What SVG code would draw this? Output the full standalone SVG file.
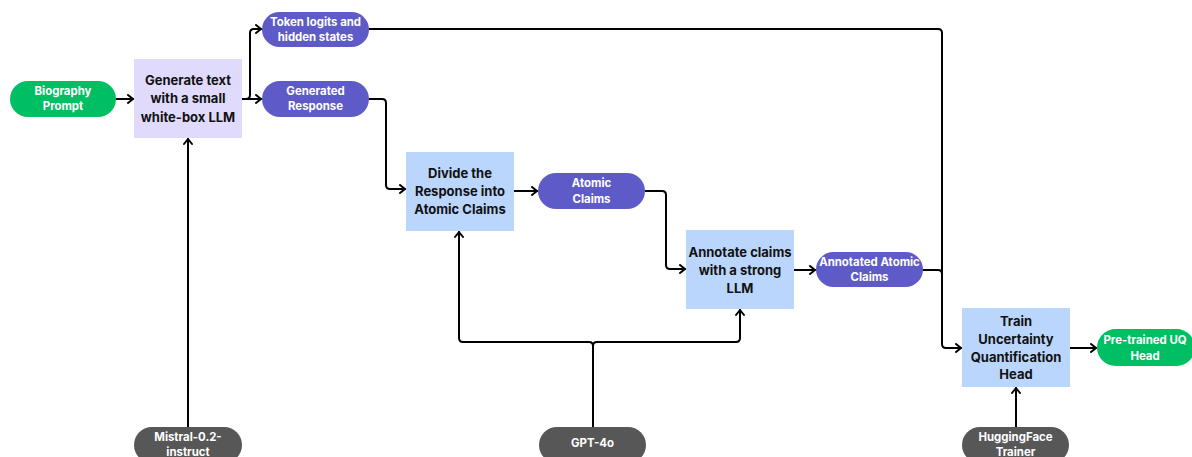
<svg xmlns="http://www.w3.org/2000/svg" width="1192" height="457" viewBox="0 0 1192 457">
<style>
.box{stroke:none}
.task{fill:#BBD6FD}
.gen{fill:#E0DBFC}
.pill-g{fill:#00BF63}
.pill-p{fill:#5E5BC8}
.pill-d{fill:#575757}
.bt{font-family:Inter,"Liberation Sans",sans-serif;font-weight:700;font-size:13px;fill:#111;text-anchor:middle}
.pt{font-family:Inter,"Liberation Sans",sans-serif;font-weight:700;font-size:11.4px;fill:#fff;text-anchor:middle}
.c{fill:none;stroke:#000;stroke-width:2;stroke-linejoin:round;stroke-linecap:round}
</style>
<defs>
<marker id="ah" viewBox="0 0 10 10" markerWidth="10" markerHeight="10" refX="8" refY="5" orient="auto" markerUnits="userSpaceOnUse">
<path d="M3,1 L8,5 L3,9" fill="none" stroke="#000" stroke-width="2" stroke-linejoin="round" stroke-linecap="round"/>
</marker>
</defs>
<rect width="1192" height="457" fill="#fff"/>

<g id="connectors">
<path class="c" d="M116,99 H133" marker-end="url(#ah)"/>
<path class="c" d="M242,99 H261" marker-end="url(#ah)"/>
<path class="c" d="M242,99 H246 Q250,99 250,95 V33 Q250,29 254,29 H261" marker-end="url(#ah)"/>
<path class="c" d="M369,99 H382 Q386,99 386,103 V185 Q386,189 390,189 H405" marker-end="url(#ah)"/>
<path class="c" d="M514,191 H537" marker-end="url(#ah)"/>
<path class="c" d="M645,191 H662 Q666,191 666,195 V265 Q666,269 670,269 H685" marker-end="url(#ah)"/>
<path class="c" d="M794,270 H815" marker-end="url(#ah)"/>
<path class="c" d="M369,29 H938 Q942,29 942,33 V344 Q942,348 946,348 H961" marker-end="url(#ah)"/>
<path class="c" d="M922,270 H938 Q942,270 942,274 V280"/>
<path class="c" d="M1070,348 H1096" marker-end="url(#ah)"/>
<path class="c" d="M188,427 V139" marker-end="url(#ah)"/>
<path class="c" d="M593,427 V346 Q593,342 589,342 H463 Q459,342 459,338 V232" marker-end="url(#ah)"/>
<path class="c" d="M593,346 Q593,342 597,342 H736 Q740,342 740,338 V310" marker-end="url(#ah)"/>
<path class="c" d="M1016,427 V388" marker-end="url(#ah)"/>
</g>

<g id="biography-prompt">
<rect class="box pill-g" x="10" y="81" width="106" height="36" rx="18"/>
<text class="pt" x="63" y="95">Biography</text>
<text class="pt" x="63" y="110">Prompt</text>
</g>

<g id="generate-text">
<rect class="box gen" x="134" y="59" width="108" height="79"/>
<text class="bt" x="188" y="84.5">Generate text</text>
<text class="bt" x="188" y="103">with a small</text>
<text class="bt" x="188" y="121.5">white-box LLM</text>
</g>

<g id="token-logits">
<rect class="box pill-p" x="262" y="12" width="107" height="35" rx="17.5"/>
<text class="pt" x="315.5" y="26">Token logits and</text>
<text class="pt" x="315.5" y="41">hidden states</text>
</g>

<g id="generated-response">
<rect class="box pill-p" x="262" y="81" width="107" height="36" rx="18"/>
<text class="pt" x="315.5" y="95">Generated</text>
<text class="pt" x="315.5" y="110">Response</text>
</g>

<g id="divide-response">
<rect class="box task" x="406" y="152" width="108" height="79"/>
<text class="bt" x="460" y="178">Divide the</text>
<text class="bt" x="460" y="196">Response into</text>
<text class="bt" x="460" y="214">Atomic Claims</text>
</g>

<g id="atomic-claims">
<rect class="box pill-p" x="538" y="173" width="107" height="36" rx="18"/>
<text class="pt" x="591.5" y="187">Atomic</text>
<text class="pt" x="591.5" y="203">Claims</text>
</g>

<g id="annotate-claims">
<rect class="box task" x="686" y="230" width="108" height="79"/>
<text class="bt" x="740" y="256.5">Annotate claims</text>
<text class="bt" x="740" y="274.5">with a strong</text>
<text class="bt" x="740" y="292.5">LLM</text>
</g>

<g id="annotated-atomic-claims">
<rect class="box pill-p" x="816" y="252" width="107" height="35" rx="17.5"/>
<text class="pt" x="869.5" y="266">Annotated Atomic</text>
<text class="pt" x="869.5" y="281">Claims</text>
</g>

<g id="train-uq-head">
<rect class="box task" x="962" y="308" width="108" height="79"/>
<text class="bt" x="1016" y="326">Train</text>
<text class="bt" x="1016" y="344">Uncertainty</text>
<text class="bt" x="1016" y="361.5">Quantification</text>
<text class="bt" x="1016" y="379">Head</text>
</g>

<g id="pretrained-uq-head">
<rect class="box pill-g" x="1097" y="329" width="98" height="37" rx="18.5"/>
<text class="pt" x="1145" y="344">Pre-trained UQ</text>
<text class="pt" x="1145" y="360">Head</text>
</g>

<g id="mistral">
<rect class="box pill-d" x="134" y="427" width="108" height="36" rx="18"/>
<text class="pt" x="188" y="441">Mistral-0.2-</text>
<text class="pt" x="188" y="456">instruct</text>
</g>

<g id="gpt-4o">
<rect class="box pill-d" x="539" y="427" width="107" height="36" rx="18"/>
<text class="pt" x="592.5" y="447">GPT-4o</text>
</g>

<g id="huggingface-trainer">
<rect class="box pill-d" x="962" y="427" width="107" height="36" rx="18"/>
<text class="pt" x="1015.5" y="441">HuggingFace</text>
<text class="pt" x="1015.5" y="456">Trainer</text>
</g>
</svg>
